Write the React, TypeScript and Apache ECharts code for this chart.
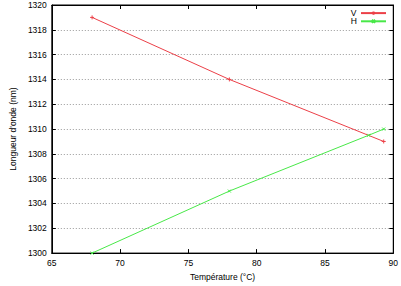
import React, { useEffect, useRef } from "react";
import * as echarts from "echarts";

const vData: [number, number][] = [
  [67.95, 1319],
  [78, 1314],
  [89.3, 1309],
];
const hData: [number, number][] = [
  [67.95, 1300],
  [78, 1305],
  [88.2, 1309.5],
  [89.3, 1310],
];
const seriesNames = ["V", "H"];
const xMin = 65;
const xMax = 90;
const yMin = 1300;
const yMax = 1320;

const FONT = "Liberation Sans, Arial, sans-serif";
const RED = "#ec4048";
const GREEN = "#48e848";
const PLUS = "path://M5,0 L5,10 M0,5 L10,5";
const CROSS = "path://M0,0 L10,10 M10,0 L0,10";

export default function App() {
  const ref = useRef<HTMLDivElement>(null);
  useEffect(() => {
    if (!ref.current) return;
    const chart = echarts.init(ref.current, null, { renderer: "svg" });
    const baseLabel = { fontSize: 8.5, color: "#000", fontFamily: FONT };
    chart.setOption({
      animation: false,
      backgroundColor: "#fff",
      textStyle: { fontFamily: FONT },
      grid: { left: 45, right: 6, top: 5, bottom: 26, show: true, borderColor: "#000", borderWidth: 1 },
      legend: {
        orient: "vertical",
        right: 14,
        top: 9,
        align: "right",
        itemWidth: 25,
        itemHeight: 4,
        itemGap: 0,
        padding: 0,
        formatter: () => "",
        textStyle: { fontSize: 8.5, color: "#000", fontFamily: FONT },
        data: seriesNames,
      },
      graphic: [
        {
          type: "text",
          right: 44,
          top: 8,
          style: {
            text: seriesNames.join("\n"),
            fontSize: 8.5,
            lineHeight: 8,
            align: "right",
            fill: "#000",
            fontFamily: FONT,
          },
        },
      ],
      xAxis: [
        {
          type: "value",
          min: xMin,
          max: xMax,
          interval: 5,
          position: "bottom",
          name: "Température (°C)",
          nameLocation: "middle",
          nameGap: 14,
          nameTextStyle: baseLabel,
          axisLine: { show: true, lineStyle: { color: "#000" } },
          axisTick: { inside: true, length: 4, lineStyle: { color: "#000" } },
          axisLabel: { ...baseLabel, margin: 5 },
          splitLine: { show: false },
        },
        {
          type: "value",
          min: xMin,
          max: xMax,
          interval: 5,
          position: "top",
          axisLine: { show: true, lineStyle: { color: "#000" } },
          axisTick: { inside: true, length: 4, lineStyle: { color: "#000" } },
          axisLabel: { show: false },
          splitLine: { show: false },
        },
      ],
      yAxis: [
        {
          type: "value",
          min: yMin,
          max: yMax,
          interval: 2,
          position: "left",
          name: "Longueur d'onde (nm)",
          nameLocation: "middle",
          nameGap: 33,
          nameTextStyle: baseLabel,
          axisLine: { show: true, lineStyle: { color: "#000" } },
          axisTick: { inside: true, length: 4, lineStyle: { color: "#000" } },
          axisLabel: { ...baseLabel, margin: 5, formatter: (v: number) => String(v) },
          splitLine: { show: true, lineStyle: { color: "#999", type: [1, 2], width: 1 } },
        },
        {
          type: "value",
          min: yMin,
          max: yMax,
          interval: 2,
          position: "right",
          axisLine: { show: true, lineStyle: { color: "#000" } },
          axisTick: { inside: true, length: 4, lineStyle: { color: "#000" } },
          axisLabel: { show: false },
          splitLine: { show: false },
        },
      ],
      series: [
        {
          name: seriesNames[0],
          type: "line",
          data: vData,
          symbol: PLUS,
          symbolSize: 4,
          showAllSymbol: true,
          lineStyle: { color: RED, width: 1 },
          itemStyle: { color: "none", borderColor: RED, borderWidth: 1 },
        },
        {
          name: seriesNames[1],
          type: "line",
          data: hData,
          symbol: CROSS,
          symbolSize: 3,
          showAllSymbol: true,
          lineStyle: { color: GREEN, width: 1 },
          itemStyle: { color: "none", borderColor: GREEN, borderWidth: 1 },
        },
      ],
    });
    return () => chart.dispose();
  }, []);
  return (
    <div
      ref={ref}
      style={{ position: "absolute", left: 0, top: 0, width: 401, height: 286 }}
    />
  );
}
